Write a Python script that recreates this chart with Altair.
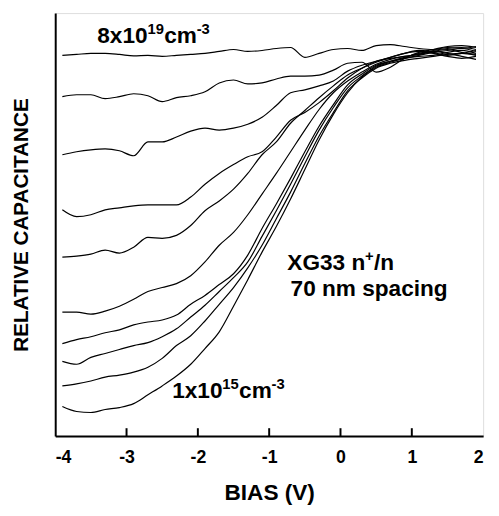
import altair as alt
import pandas as pd

# Bias (V) sample grid
bias = [-3.9, -3.7, -3.5, -3.3, -3.1, -2.9, -2.7, -2.5, -2.3, -2.1,
        -1.9, -1.7, -1.5, -1.3, -1.1, -0.9, -0.7, -0.5, -0.3, -0.1,
        0.1, 0.3, 0.5, 0.7, 0.9, 1.1, 1.3, 1.5, 1.7, 1.9]

# Relative capacitance (arbitrary units, offset curves), top = 8e19, bottom = 1e15
curve_1 = [387, 388, 389, 389, 388, 386.5, 387, 386, 387, 388, 389, 391, 393, 391, 392,
           394, 395, 385, 389, 393, 394, 392, 397, 398, 396, 394, 393, 395, 394, 396]
curve_2 = [345, 347, 347, 343, 345, 348, 346, 340, 344, 346, 350, 359, 362, 358, 359,
           363, 366, 366, 367, 372, 379, 380, 370, 375, 384, 390, 393, 396, 397, 395]
curve_3 = [286, 289, 291, 292, 290, 285, 299, 299, 304, 310, 313, 311, 313, 317, 324,
           336, 349, 352, 356, 361, 371, 377, 381, 385, 389, 392, 390, 387, 389, 392]
curve_4 = [230, 223, 225, 230, 232, 234, 235, 235, 235, 243, 256, 267, 276, 284, 289,
           304, 321, 329, 339, 351, 364, 374, 381, 384, 386, 388, 391, 393, 390, 388]
curve_5 = [182, 183, 185, 189, 186, 192, 202, 201, 204, 214, 229, 239, 251, 267, 286,
           299, 318, 331, 344, 356, 367, 374, 380, 385, 389, 391, 389, 386, 384, 386]
curve_6 = [126, 126, 124, 127, 132, 139, 147, 151, 155, 163, 177, 194, 207, 225, 246,
           267, 289, 311, 332, 349, 361, 370, 378, 383, 386, 388, 392, 394, 395, 393]
curve_7 = [94, 98, 101, 105, 108, 113, 116, 118, 123, 134, 143, 154, 165, 184, 211,
           236, 262, 289, 315, 337, 357, 368, 377, 381, 384, 386, 387, 390, 392, 389]
curve_8 = [76, 73, 80, 84, 88, 92, 95, 101, 109, 121, 133, 147, 161, 177, 203,
           229, 256, 284, 311, 334, 354, 366, 376, 381, 385, 389, 391, 389, 386, 383]
curve_9 = [51, 53, 56, 60, 62, 65, 70, 79, 92, 102, 117, 134, 151, 171, 194,
           221, 248, 277, 305, 329, 351, 364, 374, 379, 382, 384, 386, 388, 389, 387]
curve_10 = [30, 25, 24, 27, 29, 33, 42, 51, 61, 73, 89, 106, 132, 159, 187,
            213, 241, 271, 301, 327, 349, 365, 375, 380, 384, 387, 390, 392, 394, 391]

curves = [curve_1, curve_2, curve_3, curve_4, curve_5,
          curve_6, curve_7, curve_8, curve_9, curve_10]

x_ticks = [-4, -3, -2, -1, 0, 1, 2]
inner_ticks = [-3, -2, -1, 0, 1]

rows = []
for i, c in enumerate(curves):
    for b, v in zip(bias, c):
        rows.append({"curve": i + 1, "bias": b, "cap": v})
df = pd.DataFrame(rows)

FONT = "Liberation Sans"
W, H = 435, 430

xscale = alt.Scale(domain=[-4, 2], nice=False, zero=False)
yscale = alt.Scale(domain=[0, 430], nice=False, zero=False)

lines = alt.Chart(df).mark_line(color="black", strokeWidth=1.2, interpolate="monotone").encode(
    x=alt.X("bias:Q", scale=xscale,
            axis=alt.Axis(values=x_ticks, title="BIAS (V)", labelExpr="'' + datum.value",
                          ticks=False, tickSize=0, grid=False, domainColor="black",
                          domainWidth=2, labelFontSize=18, labelFontWeight="bold",
                          labelColor="black", labelPadding=13, titleFontSize=23,
                          titleFontWeight="bold", titleColor="black", titlePadding=15,
                          labelFont=FONT, titleFont=FONT)),
    y=alt.Y("cap:Q", scale=yscale,
            axis=alt.Axis(labels=False, ticks=False, tickSize=0, grid=False,
                          domainColor="black", domainWidth=2,
                          title="RELATIVE CAPACITANCE", titleFontSize=21,
                          titleFontWeight="bold", titleColor="black", titlePadding=24,
                          titleFont=FONT)),
    detail="curve:N",
)

tick_df = pd.DataFrame({"bias": inner_ticks})
ticks = alt.Chart(tick_df).mark_rule(color="black", strokeWidth=2).encode(
    x=alt.X("bias:Q", scale=xscale),
    y=alt.value(H),
    y2=alt.value(H - 8),
)

# Annotation pieces
label_top = ["8x10", "19", "cm", "-3"]
label_bottom = ["1x10", "15", "cm", "-3"]
label_sample = ["XG33 n", "+", "/n"]
label_spacing = ["70 nm spacing"]

def piece(text, x, y, dx, dy, size):
    d = pd.DataFrame({"bias": [x], "cap": [y], "t": [text]})
    return alt.Chart(d).mark_text(
        align="left", baseline="alphabetic", dx=dx, dy=dy, fontSize=size,
        fontWeight="bold", font=FONT, color="black",
    ).encode(x=alt.X("bias:Q", scale=xscale), y=alt.Y("cap:Q", scale=yscale), text="t:N")

sup_offsets = [(0, 0, 23), (51, -9, 15), (68, 0, 23), (101, -9, 15)]
layers = [lines, ticks]
for txt, (dx, dy, s) in zip(label_top, sup_offsets):
    layers.append(piece(txt, -3.41, 400, dx, dy, s))
for txt, (dx, dy, s) in zip(label_bottom, sup_offsets):
    layers.append(piece(txt, -2.36, 39, dx, dy, s))
for txt, (dx, dy, s) in zip(label_sample, [(0, 0, 23), (79, -9, 15), (88, 0, 23)]):
    layers.append(piece(txt, -0.745, 169, dx, dy, s))
layers.append(piece(label_spacing[0], -0.70, 142, 0, 0, 23))

chart = alt.layer(*layers).properties(
    width=W, height=H,
    autosize=alt.AutoSizeParams(type="none"),
    padding={"left": 48, "right": 8, "top": 1, "bottom": 72},
).configure_view(stroke="black", strokeWidth=1.5).configure(font=FONT, background="white")

chart.save("out.html", embed_options={"renderer": "svg", "actions": False})
